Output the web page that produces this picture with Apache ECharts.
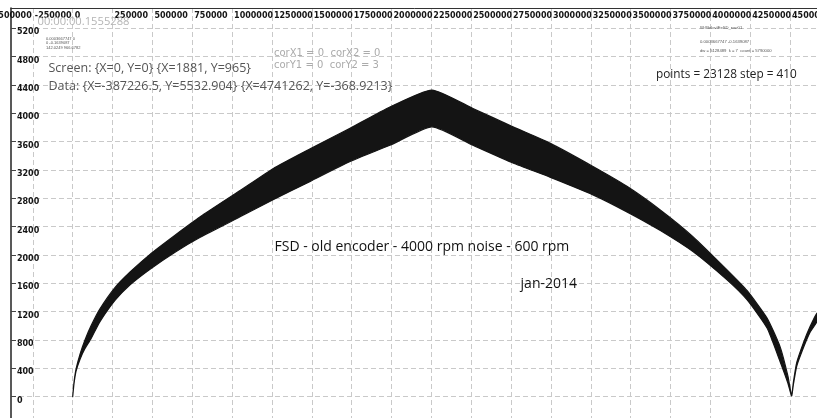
<!DOCTYPE html>
<html><head><meta charset="utf-8">
<script src="https://cdn.jsdelivr.net/npm/echarts@6/dist/echarts.min.js"></script>
<style>html,body{margin:0;padding:0;background:#fff}#c{width:817px;height:418px}</style>
</head><body><div id="c"></div><script>
// Envelope of the noisy signal
const xValues = [0, 8000, 21000, 46000, 77000, 115000, 171000, 265000, 360000, 485000,
  642000, 800000, 1050000, 1257000, 1490000, 1740000, 1990000, 2254000, 2511000, 2762000,
  2994000, 3264000, 3477000, 3684000, 3891000, 4105000, 4230000, 4356000, 4437000, 4487000,
  4510000, 4521000, 4542000, 4584000, 4626000, 4669000];
const upperValues = [0, 200, 390, 600, 800, 1000, 1240, 1540, 1760, 2010,
  2280, 2540, 2910, 3220, 3500, 3790, 4090, 4330, 4070, 3810,
  3580, 3250, 2970, 2640, 2260, 1790, 1500, 1110, 710, 290,
  15, 200, 480, 760, 990, 1180];
const lowerValues = [0, 180, 360, 530, 680, 820, 1060, 1360, 1580, 1800,
  2040, 2250, 2540, 2780, 3040, 3320, 3550, 3810, 3550, 3300,
  3100, 2850, 2610, 2350, 2050, 1650, 1370, 970, 500, 190,
  10, 170, 430, 690, 910, 1060];
// Axis ticks
const xTickValues = [-500000, -250000, 0, 250000, 500000, 750000, 1000000, 1250000, 1500000,
  1750000, 2000000, 2250000, 2500000, 2750000, 3000000, 3250000, 3500000, 3750000,
  4000000, 4250000, 4500000];
const yTickValues = [0, 400, 800, 1200, 1600, 2000, 2400, 2800, 3200, 3600, 4000, 4400, 4800, 5200];
// Texts
const timeText = '00:00:00.1555288';
const smallLeftLines = ['0.0003667747 0', '0 -0.1639087', '142.0249 966.6782'];
const smallRightLines = ['W:\\Belov\\FeSD_raw01', '0.0003667747 -0.1639087', 'dw = 5128489  k = 7  count = 5790000'];
const corLines = ['corX1 = 0  corX2 = 0', 'corY1 = 0  corY2 = 3'];
const screenText = 'Screen: {X=0, Y=0} {X=1881, Y=965}';
const dataText = 'Data: {X=-387226.5, Y=5532.904} {X=4741262, Y=-368.9213}';
const pointsText = 'points = 23128 step = 410';
const titleText = 'FSD - old encoder - 4000 rpm noise - 600 rpm';
const dateText = 'jan-2014';

const chart = echarts.init(document.getElementById('c'), null, {renderer: 'canvas'});
const gridLine = {show: true, lineStyle: {color: '#c9c9c9', width: 1, type: [5, 3]}};
const labelFont = {fontFamily: 'DejaVu Sans', fontSize: 8, fontWeight: 'bold', color: '#151515'};

function txt(x, y, text, font, fill, align) {
  return {type: 'text', x: x, y: y, z: 100, silent: true,
    style: {text: text, font: font, fill: fill, align: align || 'left', verticalAlign: 'middle'}};
}

const graphics = [
  txt(37.5, 21.5, timeText, '11.2px "Open Sans"', '#b4b4b4'),
  txt(274, 53.5, corLines[0], '10px "DejaVu Sans"', '#ababab'),
  txt(274, 65, corLines[1], '10px "DejaVu Sans"', '#ababab'),
  txt(48.5, 68, screenText, '12.5px "Open Sans"', '#555555'),
  txt(48.5, 86, dataText, '12.5px "Open Sans"', '#555555'),
  txt(656, 75, pointsText, '11.8px "Open Sans"', '#222222'),
  txt(274.5, 247, titleText, '14px "Open Sans"', '#111111'),
  txt(577, 284.5, dateText, '14px "Open Sans"', '#111111', 'right')
];
smallLeftLines.forEach((t, i) => graphics.push(txt(46, 39 + i * 4.2, t, '4px "Liberation Sans"', '#555555')));
[28.3, 41.7, 50.7].forEach((y, i) => graphics.push(txt(700, y, smallRightLines[i], '4.2px "Liberation Sans"', '#555555')));

const option = {
  backgroundColor: '#ffffff',
  animation: false,
  grid: [
    {left: 10.98, top: 8, right: -12.85, bottom: -7.03, containLabel: false, outerBoundsMode: 'none'},
    {left: -7, top: 8, right: -12.85, bottom: -7.03, containLabel: false, outerBoundsMode: 'none'}
  ],
  xAxis: [
    {type: 'value', gridIndex: 0, position: 'top', min: -387226.5, max: 4750000,
      axisLine: {show: true, onZero: false, lineStyle: {color: '#333', width: 1}},
      axisTick: {show: true, length: 0, customValues: xTickValues},
      axisLabel: {show: false},
      splitLine: gridLine},
    {type: 'value', gridIndex: 1, position: 'top', min: -500000, max: 4750000,
      axisLine: {show: false}, axisTick: {show: false}, splitLine: {show: false},
      axisLabel: Object.assign({show: true, inside: true, align: 'left', verticalAlign: 'top',
        margin: 4, padding: [0, 0, 0, 2], customValues: xTickValues,
        formatter: v => String(v)}, labelFont)}
  ],
  yAxis: [
    {type: 'value', gridIndex: 0, min: -400, max: 5488.2,
      axisLine: {show: true, onZero: false, lineStyle: {color: '#222', width: 1.5}},
      axisTick: {show: true, inside: true, length: 5, lineStyle: {color: '#444'}, customValues: yTickValues},
      axisLabel: Object.assign({show: true, inside: true, align: 'left', verticalAlign: 'top',
        margin: 6, customValues: yTickValues, formatter: v => String(v)}, labelFont),
      splitLine: gridLine},
    {type: 'value', gridIndex: 1, show: false, min: 0, max: 1}
  ],
  graphic: graphics,
  series: [{
    type: 'custom',
    xAxisIndex: 0, yAxisIndex: 0,
    clip: true,
    encode: {x: 0, y: [1, 2]},
    data: xValues.map((x, i) => [x, upperValues[i], lowerValues[i]]),
    renderItem: function (params, api) {
      if (params.dataIndex !== 0) return null;
      const pts = [];
      for (let i = 0; i < xValues.length; i++) pts.push(api.coord([xValues[i], upperValues[i]]));
      for (let i = xValues.length - 1; i >= 0; i--) pts.push(api.coord([xValues[i], lowerValues[i]]));
      return {type: 'polygon', shape: {points: pts, smooth: 0.18},
        style: {fill: '#141414', stroke: '#141414', lineWidth: 1.2, lineJoin: 'round'}};
    }
  }]
};
chart.setOption(option);
</script></body></html>
